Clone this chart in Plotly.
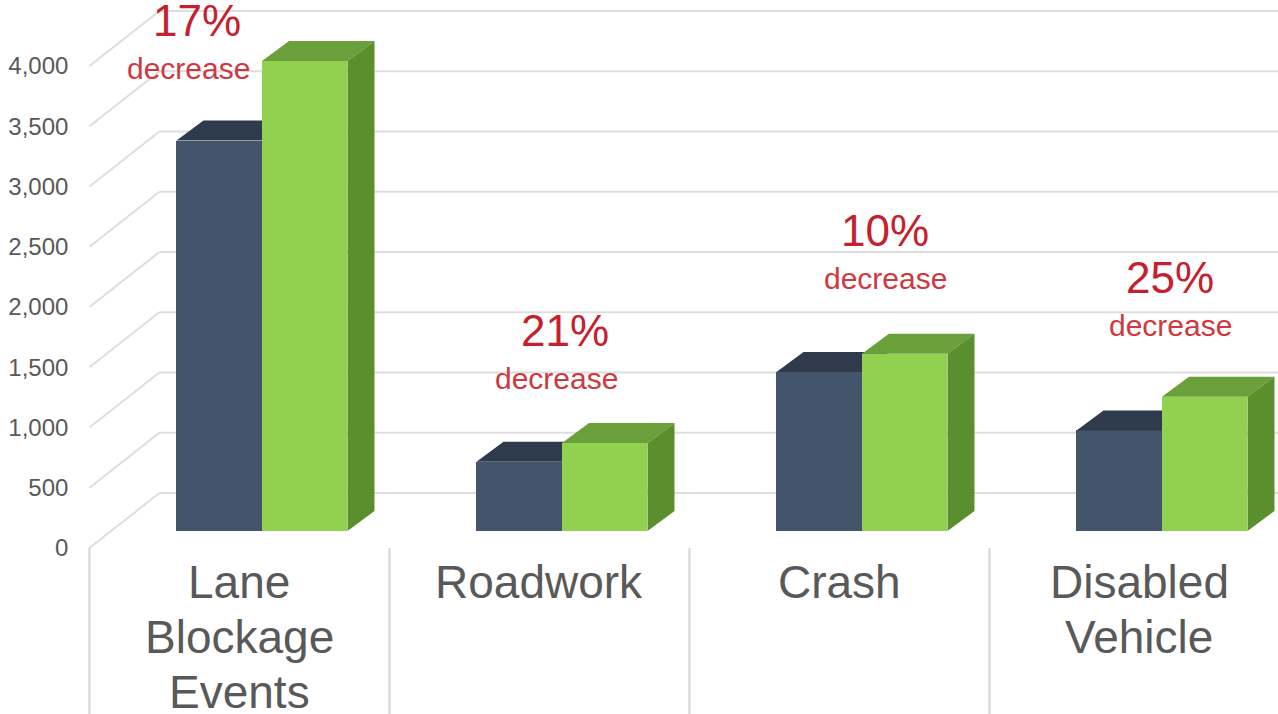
import plotly.graph_objects as go

# ---- data -------------------------------------------------------------
category_lines = [["Lane", "Blockage", "Events"], ["Roadwork"], ["Crash"], ["Disabled", "Vehicle"]]
after_counts = [3240, 575, 1320, 835]      # dark bars
before_counts = [3900, 730, 1470, 1115]    # green bars
y_tick_values = [0, 500, 1000, 1500, 2000, 2500, 3000, 3500, 4000]

# ---- styling / geometry ----------------------------------------------
FONT = "Liberation Sans, Arial, sans-serif"
TEXT_GREY = "#595959"
RED = "#C4202E"
RED_LIGHT = "#CE383E"
GRID = "#DEDEDE"
DARK_FRONT, DARK_TOP = "#44546A", "#2F3B4C"
GREEN_FRONT, GREEN_TOP, GREEN_SIDE = "#92D050", "#6A9F39", "#5B8F2D"

X_RANGE = [-0.8733, 3.3867]
Y_RANGE = [-1519, 4407]
BAR_W = 0.285                 # width of one bar in category units
DEPTH_X, DEPTH_Y = 0.09, 166  # bar depth (oblique projection)
FRONT_DX, FRONT_DY = -0.075, -141   # front (axis) plane relative to bars
BACK_DX, BACK_DY = 0.158, 315       # back wall relative to bars

# percentage label anchors (category units / data units)
LABEL_X = [-0.217, 1.01, 2.077, 3.027]
LABEL_Y = [4241, 1668, 2498, 2100]
DECREASE_XSHIFT = [-8, -8, 0, 0]

n = len(after_counts)
xs = list(range(n))

fig = go.Figure()

# front faces
fig.add_trace(go.Bar(x=xs, y=after_counts, width=BAR_W, offset=-BAR_W,
                     marker=dict(color=DARK_FRONT, line=dict(width=0)),
                     name="After", showlegend=False))
fig.add_trace(go.Bar(x=xs, y=before_counts, width=BAR_W, offset=0,
                     marker=dict(color=GREEN_FRONT, line=dict(width=0)),
                     name="Before", showlegend=False))


def poly(points, color):
    px = [p[0] for p in points] + [points[0][0]]
    py = [p[1] for p in points] + [points[0][1]]
    return go.Scatter(x=px, y=py, mode="lines", fill="toself", fillcolor=color,
                      line=dict(width=0, color=color), hoverinfo="skip",
                      showlegend=False)


# top face of the dark bars (the part not hidden by the green front face)
for i, (d, g) in enumerate(zip(after_counts, before_counts)):
    x0, x1 = i - BAR_W, i
    yc = min(max(g, d), d + DEPTH_Y)
    pts = [(x0, d), (x0 + DEPTH_X, d + DEPTH_Y), (x1 + DEPTH_X, d + DEPTH_Y),
           (x1 + DEPTH_X * (yc - d) / DEPTH_Y, yc), (x1, yc), (x1, d)]
    fig.add_trace(poly(pts, DARK_TOP))

# top and side faces of the green bars
for i, g in enumerate(before_counts):
    x1, x2 = i, i + BAR_W
    fig.add_trace(poly([(x1, g), (x1 + DEPTH_X, g + DEPTH_Y),
                        (x2 + DEPTH_X, g + DEPTH_Y), (x2, g)], GREEN_TOP))
    fig.add_trace(poly([(x2, 0), (x2 + DEPTH_X, DEPTH_Y),
                        (x2 + DEPTH_X, g + DEPTH_Y), (x2, g)], GREEN_SIDE))

# axis carrying the value labels on the front plane
fig.add_trace(go.Scatter(x=[], y=[], yaxis="y2", showlegend=False, hoverinfo="skip"))

# back wall gridlines and side wall lines
shapes = []
wall_left_front = -0.5 + FRONT_DX
wall_left_back = -0.5 + BACK_DX
for v in y_tick_values:
    shapes.append(dict(type="line", xref="x", yref="y", layer="below",
                       x0=wall_left_back, x1=n - 0.5 + BACK_DX + 1,
                       y0=v + BACK_DY, y1=v + BACK_DY,
                       line=dict(color=GRID, width=2)))
    shapes.append(dict(type="line", xref="x", yref="y", layer="below",
                       x0=wall_left_front, x1=wall_left_back,
                       y0=v + FRONT_DY, y1=v + BACK_DY,
                       line=dict(color=GRID, width=2)))
# category separators below the floor
for i in range(n + 1):
    shapes.append(dict(type="line", xref="x", yref="y", layer="below",
                       x0=i - 0.5 + FRONT_DX, x1=i - 0.5 + FRONT_DX,
                       y0=FRONT_DY, y1=Y_RANGE[0],
                       line=dict(color="#D4D4D4", width=2)))

annotations = []
# category labels, one line each
LINE_TOP_PAPER = 1 - 582 / 714
LINE_STEP_PAPER = 55 / 714
for i, lines in enumerate(category_lines):
    for j, line in enumerate(lines):
        annotations.append(dict(x=i + FRONT_DX, xref="x",
                                y=LINE_TOP_PAPER - j * LINE_STEP_PAPER, yref="paper",
                                text=line, showarrow=False, xanchor="center",
                                yanchor="middle",
                                font=dict(family=FONT, size=46, color=TEXT_GREY)))

# percentage decrease labels
for i, (d, g) in enumerate(zip(after_counts, before_counts)):
    pct = round((g - d) / g * 100)
    annotations.append(dict(x=LABEL_X[i], y=LABEL_Y[i], xref="x", yref="y",
                            text=f"{pct}%", showarrow=False, xanchor="center",
                            yanchor="middle",
                            font=dict(family=FONT, size=44, color=RED)))
    annotations.append(dict(x=LABEL_X[i], y=LABEL_Y[i], xref="x", yref="y",
                            xshift=DECREASE_XSHIFT[i], yshift=-48,
                            text="decrease", showarrow=False, xanchor="center",
                            yanchor="middle",
                            font=dict(family=FONT, size=30, color=RED_LIGHT)))

fig.update_layout(
    width=1278, height=714, autosize=False,
    margin=dict(l=0, r=0, t=0, b=0, pad=0),
    paper_bgcolor="white", plot_bgcolor="white",
    barmode="overlay", bargap=0,
    xaxis=dict(range=X_RANGE, visible=False, fixedrange=True),
    yaxis=dict(range=Y_RANGE, visible=False, fixedrange=True),
    yaxis2=dict(range=[Y_RANGE[0] - FRONT_DY, Y_RANGE[1] - FRONT_DY],
                overlaying="y", anchor="free", position=0.0535, side="left",
                tickvals=y_tick_values, tickformat=",", ticks="",
                showgrid=False, zeroline=False, showline=False,
                tickfont=dict(family=FONT, size=24, color=TEXT_GREY),
                fixedrange=True),
    shapes=shapes,
    annotations=annotations,
    showlegend=False,
)

fig.write_html("out.html")
